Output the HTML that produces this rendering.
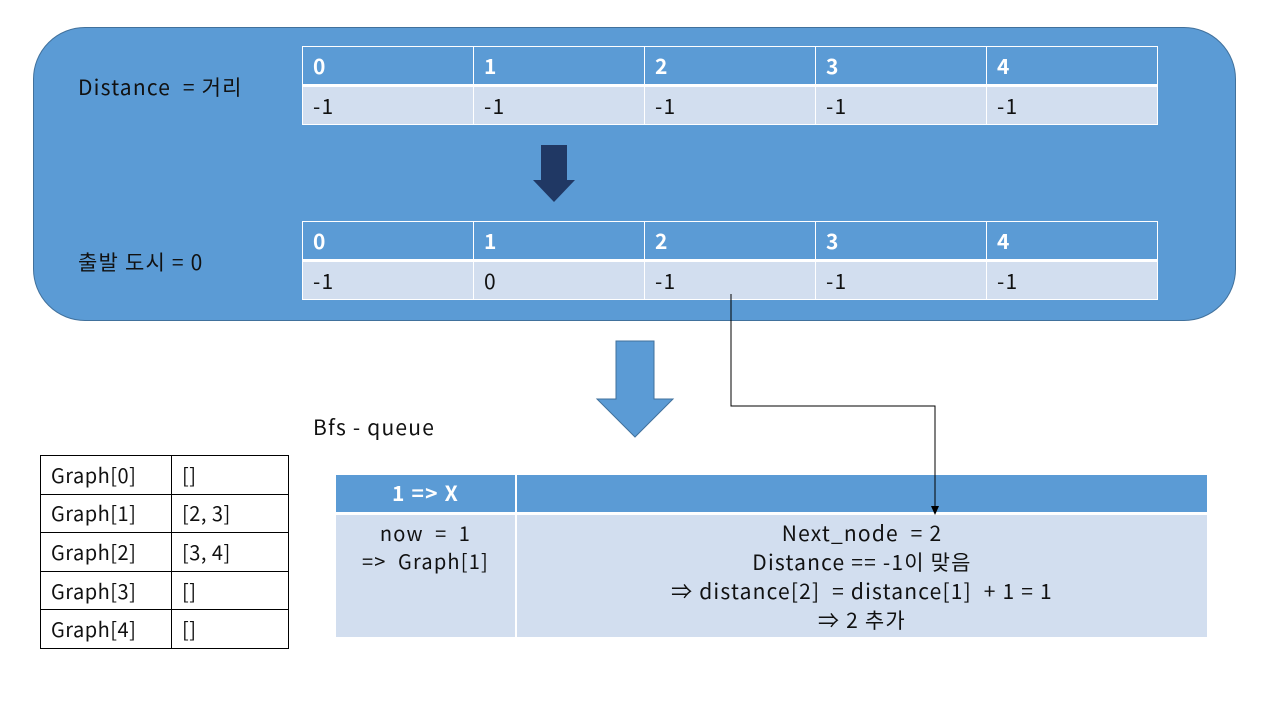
<!DOCTYPE html>
<html><head><meta charset="utf-8"><style>
body{margin:0;width:1280px;height:720px;background:#fff;position:relative;overflow:hidden;font-family:"Noto Sans CJK KR","Liberation Sans",sans-serif;letter-spacing:1.2px}
.a{position:absolute}
.panel{left:33px;top:27px;width:1201px;height:292px;background:#5b9bd5;border:1px solid #41719c;border-radius:52px}
table{border-collapse:collapse;position:absolute}
.t td{width:171px;box-sizing:border-box;border:1px solid #fff;padding:0 10px;font-size:21px;height:39px;line-height:20px}
.t tr:first-child td{background:#5b9bd5;color:#fff;font-weight:bold;border-bottom:3px solid #fff}
.t tr:last-child td{background:#d2deef;color:#111}
.lbl{font-size:21px;color:#111;line-height:26px}
.g td{border:1px solid #000;font-size:20px;height:38.6px;box-sizing:border-box;padding:0 10px;color:#111;line-height:20px;letter-spacing:0.5px}
</style></head><body>
<div class="a panel"></div>
<div class="a lbl" style="left:78px;top:74px">Distance &nbsp;= 거리</div>
<div class="a lbl" style="left:78px;top:249px">출발 도시 = 0</div>
<table class="t" style="left:302px;top:46px"><tr><td>0</td><td>1</td><td>2</td><td>3</td><td>4</td></tr><tr><td>-1</td><td>-1</td><td>-1</td><td>-1</td><td>-1</td></tr></table>
<table class="t" style="left:302px;top:221px"><tr><td>0</td><td>1</td><td>2</td><td>3</td><td>4</td></tr><tr><td>-1</td><td>0</td><td>-1</td><td>-1</td><td>-1</td></tr></table>
<div class="a lbl" style="left:313px;top:414px">Bfs - queue</div>
<table class="g" style="left:40px;top:455px;width:249px">
<tr><td style="width:131px">Graph[0]</td><td>[]</td></tr>
<tr><td>Graph[1]</td><td>[2, 3]</td></tr>
<tr><td>Graph[2]</td><td>[3, 4]</td></tr>
<tr><td>Graph[3]</td><td>[]</td></tr>
<tr><td>Graph[4]</td><td>[]</td></tr>
</table>
<div class="a" style="left:336px;top:475px;width:179px;height:37px;background:#5b9bd5;color:#fff;font-weight:bold;font-size:21px;text-align:center;line-height:37px">1 =&gt; X</div>
<div class="a" style="left:517px;top:475px;width:690px;height:37px;background:#5b9bd5"></div>
<div class="a" style="left:336px;top:515px;width:179px;height:122px;background:#d2deef;font-size:20px;text-align:center;line-height:28px;color:#111;padding-top:4px;box-sizing:border-box">now &nbsp;= &nbsp;1<br>=&gt; &nbsp;Graph[1]</div>
<div class="a" style="left:517px;top:515px;width:690px;height:122px;background:#d2deef;font-size:21px;text-align:center;line-height:29px;color:#111;padding-top:4px;box-sizing:border-box">Next_node &nbsp;= 2<br>Distance == -1이 맞음<br>⇒ distance[2] &nbsp;= distance[1] &nbsp;+ 1 = 1<br>⇒ 2 추가</div>
<svg class="a" style="left:0;top:0" width="1280" height="720">
<polygon points="541,145 567,145 567,180 575,180 554,202 533,180 541,180" fill="#203864"/>
<polygon points="616,341 654,341 654,399 673,399 635,437 597,399 616,399" fill="#5b9bd5" stroke="#41719c"/>
<polyline points="731,294 731,406 935,406 935,508" fill="none" stroke="#000" stroke-width="1"/>
<polygon points="931,506 939,506 935,515" fill="#000"/>
</svg>
</body></html>
